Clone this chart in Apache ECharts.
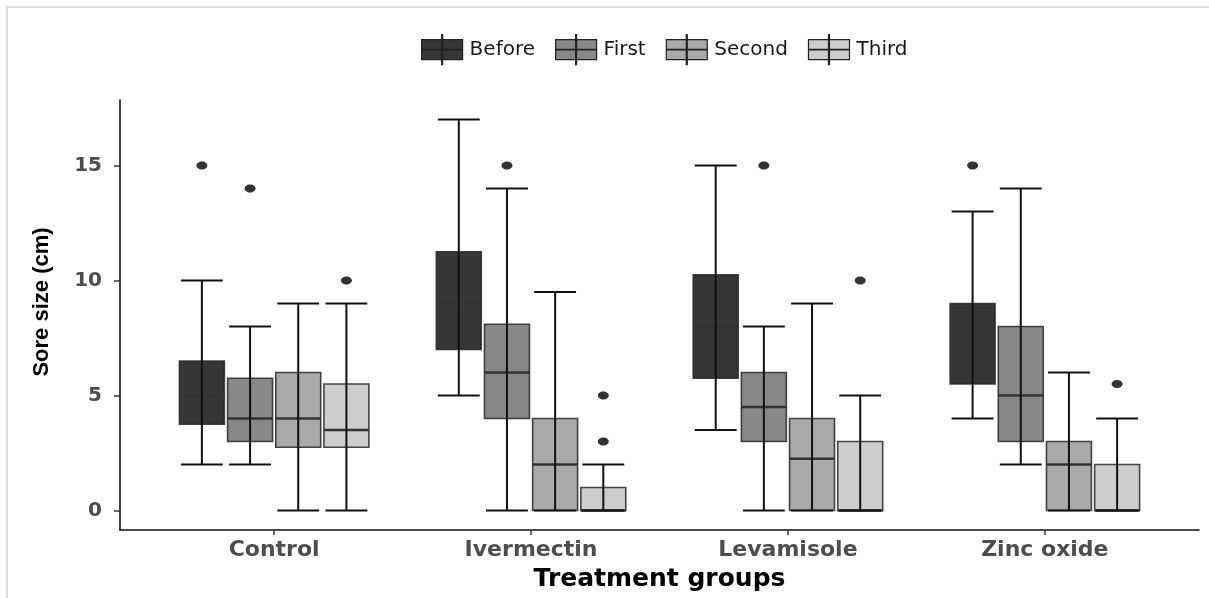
<!DOCTYPE html>
<html>
<head>
<meta charset="utf-8">
<script src="https://cdn.jsdelivr.net/npm/echarts@6/dist/echarts.min.js"></script>
<style>
html,body{margin:0;padding:0;background:#fff;}
#wrap{position:relative;width:1209px;height:598px;}
#chart{position:absolute;left:0;top:0;width:1209px;height:598px;}
#frame{position:absolute;left:6px;top:6px;width:1203px;height:592px;border-left:2px solid #dcdcdc;border-top:2px solid #dcdcdc;pointer-events:none;}
</style>
</head>
<body>
<div id="wrap"><div id="chart"></div><div id="frame"></div></div>
<script>
// Categories and series
const categories = ['Control', 'Ivermectin', 'Levamisole', 'Zinc oxide'];
const seriesNames = ['Before', 'First', 'Second', 'Third'];
// Box values per series: [min, Q1, median, Q3, max] per category
const before = [[2, 3.75, 5, 6.5, 10], [5, 7, 9, 11.25, 17], [3.5, 5.75, 8, 10.25, 15], [4, 5.5, 7, 9, 13]];
const first  = [[2, 3, 4, 5.75, 8], [0, 4, 6, 8.1, 14], [0, 3, 4.5, 6, 8], [2, 3, 5, 8, 14]];
const second = [[0, 2.75, 4, 6, 9], [0, 0, 2, 4, 9.5], [0, 0, 2.25, 4, 9], [0, 0, 2, 3, 6]];
const third  = [[0, 2.75, 3.5, 5.5, 9], [0, 0, 0, 1, 2], [0, 0, 0, 3, 5], [0, 0, 0, 2, 4]];
// Outliers: [category index, series index, value]
const outliers = [[0, 0, 15], [3, 0, 15], [0, 1, 14], [1, 1, 15], [2, 1, 15], [0, 3, 10], [1, 3, 5], [1, 3, 3], [2, 3, 10], [3, 3, 5.5]];
const yTicks = [0, 5, 10, 15];

const colors = ['#363636', '#888888', '#a9a9a9', '#cdcdcd'];
const offsets = [-0.28125, -0.09375, 0.09375, 0.28125];
const boxW = 0.175, capW = 0.163;
const allBoxes = [before, first, second, third];

const chart = echarts.init(document.getElementById('chart'), null, {renderer: 'canvas'});

function boxRender(params, api) {
  const si = params.seriesIndex;
  const xc = api.value(0) + offsets[si];
  const pMin = api.coord([xc, api.value(1)]);
  const pQ1 = api.coord([xc, api.value(2)]);
  const pMed = api.coord([xc, api.value(3)]);
  const pQ3 = api.coord([xc, api.value(4)]);
  const pMax = api.coord([xc, api.value(5)]);
  const hw = api.size([boxW, 0])[0] / 2;
  const cw = api.size([capW, 0])[0] / 2;
  const x = pMed[0];
  return {
    type: 'group',
    children: [
      {type: 'rect', shape: {x: x - hw, y: pQ3[1], width: hw * 2, height: pQ1[1] - pQ3[1]},
       style: {fill: colors[si], stroke: 'rgba(40,40,40,0.85)', lineWidth: 1.6}},
      {type: 'line', shape: {x1: x - hw, y1: pMed[1], x2: x + hw, y2: pMed[1]},
       style: {stroke: '#333333', lineWidth: 2.6}},
      {type: 'line', shape: {x1: x, y1: pMin[1], x2: x, y2: pMax[1]},
       style: {stroke: '#111', lineWidth: 2}},
      {type: 'line', shape: {x1: x - cw, y1: pMin[1], x2: x + cw, y2: pMin[1]},
       style: {stroke: '#111', lineWidth: 2}},
      {type: 'line', shape: {x1: x - cw, y1: pMax[1], x2: x + cw, y2: pMax[1]},
       style: {stroke: '#111', lineWidth: 2}}
    ]
  };
}

function outlierRender(params, api) {
  const xc = api.value(0) + offsets[api.value(1)];
  const p = api.coord([xc, api.value(2)]);
  return {type: 'ellipse', shape: {cx: p[0], cy: p[1], rx: 5.5, ry: 4}, style: {fill: '#333'}};
}

const legendIcon = 'path://M0,5 L41,5 L41,25 L0,25 Z M20,0 L21,0 L21,30 L20,30 Z M0,14.7 L41,14.7 L41,15.3 L0,15.3 Z';

const series = seriesNames.map((name, si) => ({
  name: name,
  type: 'custom',
  renderItem: boxRender,
  itemStyle: {color: colors[si]},
  encode: {x: 0, y: [1, 2, 3, 4, 5]},
  data: allBoxes[si].map((b, ci) => [ci + 1].concat(b)),
  clip: false,
  z: 2
}));
series.push({
  name: 'outliers',
  type: 'custom',
  renderItem: outlierRender,
  encode: {x: 0, y: 2},
  data: outliers.map(o => [o[0] + 1, o[1], o[2]]),
  z: 3
});

const option = {
  animation: false,
  backgroundColor: '#ffffff',
  legend: {
    top: 29,
    left: 416,
    itemWidth: 41,
    itemHeight: 30,
    itemGap: 20,
    selectedMode: false,
    textStyle: {fontFamily: 'DejaVu Sans', fontSize: 20, color: '#1a1a1a', padding: [0, 0, 0, 2]},
    data: seriesNames.map((n, i) => ({
      name: n, icon: legendIcon,
      itemStyle: {color: colors[i], borderColor: '#222', borderWidth: 1.2}
    }))
  },
  grid: {left: 120, right: 10, top: 100, bottom: 68},
  xAxis: {
    type: 'value',
    min: 0.4,
    max: 4.6,
    name: 'Treatment groups',
    nameLocation: 'middle',
    nameGap: 37,
    nameTextStyle: {fontFamily: 'DejaVu Sans', fontWeight: 'bold', fontSize: 25, color: '#000'},
    splitLine: {show: false},
    axisLine: {show: true, onZero: false, lineStyle: {color: '#111', width: 1.6}},
    axisTick: {show: true, length: 5, lineStyle: {color: '#333', width: 1.5}, customValues: [1, 2, 3, 4]},
    axisLabel: {
      customValues: [1, 2, 3, 4],
      formatter: v => categories[Math.round(v) - 1],
      margin: 9,
      fontFamily: 'DejaVu Sans', fontWeight: 'bold', fontSize: 22, color: '#4d4d4d'
    }
  },
  yAxis: {
    type: 'value',
    min: -0.85,
    max: 17.85,
    name: 'Sore size (cm)',
    nameLocation: 'middle',
    nameGap: 67,
    nameRotate: 90,
    nameTextStyle: {fontFamily: 'Liberation Sans', fontWeight: 'bold', fontSize: 22, color: '#000', padding: [0, 0, 0, 26]},
    splitLine: {show: false},
    axisLine: {show: true, onZero: false, lineStyle: {color: '#111', width: 1.6}},
    axisTick: {show: true, length: 6, lineStyle: {color: '#333', width: 1.5}, customValues: yTicks},
    axisLabel: {
      customValues: yTicks,
      margin: 18,
      fontFamily: 'DejaVu Sans', fontWeight: 'bold', fontSize: 20, color: '#4d4d4d'
    }
  },
  series: series
};
chart.setOption(option);
</script>
</body>
</html>
